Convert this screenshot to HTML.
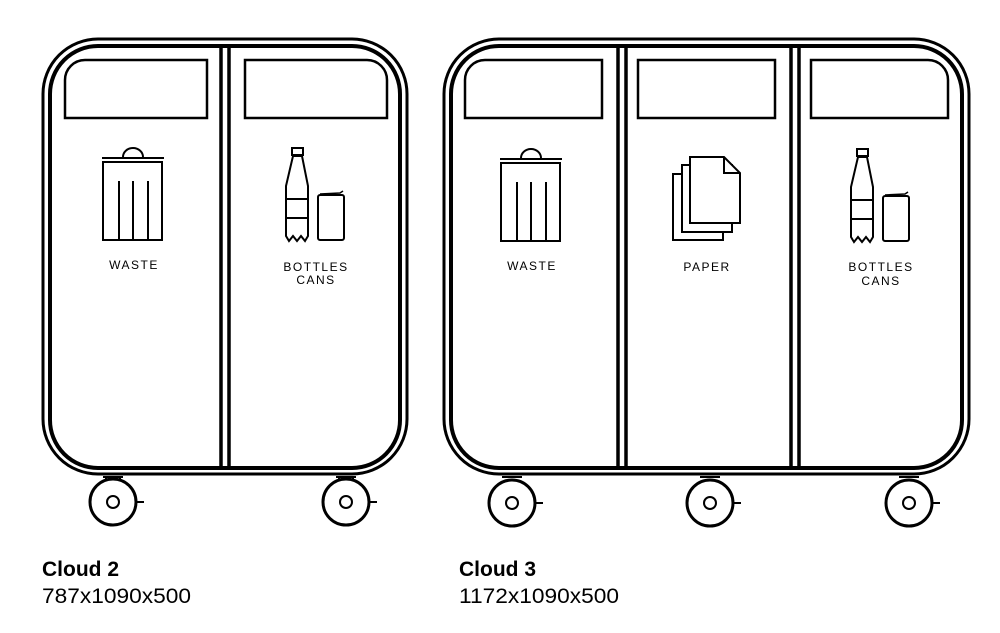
<!DOCTYPE html>
<html><head><meta charset="utf-8"><style>
html,body{margin:0;padding:0;background:#fff;}
svg{display:block}
text{font-family:"Liberation Sans",sans-serif;}
</style></head><body>
<svg width="1000" height="633" viewBox="0 0 1000 633" xmlns="http://www.w3.org/2000/svg">
<g fill="none" stroke="#000" stroke-width="3">
  <!-- Cloud 2 -->
  <rect x="43" y="39" width="364" height="435" rx="55"/>
  <rect x="50" y="46" width="350" height="422" rx="48" stroke-width="4"/>
  <line x1="221" y1="46" x2="221" y2="468" stroke-width="3.5"/>
  <line x1="229" y1="46" x2="229" y2="468" stroke-width="3.5"/>
  <path d="M85 60 H207 V118 H65 V80 A20 20 0 0 1 85 60 Z" stroke-width="2.5"/>
  <path d="M245 60 H367 A20 20 0 0 1 387 80 V118 H245 Z" stroke-width="2.5"/>
  <!-- wheels -->
  <line x1="103" y1="477" x2="123" y2="477" stroke-width="2"/>
  <line x1="106" y1="477" x2="106" y2="480" stroke-width="2"/>
  <line x1="120" y1="477" x2="120" y2="480" stroke-width="2"/>
  <circle cx="113" cy="502" r="23"/>
  <circle cx="113" cy="502" r="6" stroke-width="2"/>
  <line x1="136" y1="502" x2="144" y2="502" stroke-width="2"/>
  <line x1="336" y1="477" x2="356" y2="477" stroke-width="2"/>
  <line x1="339" y1="477" x2="339" y2="480" stroke-width="2"/>
  <line x1="353" y1="477" x2="353" y2="480" stroke-width="2"/>
  <circle cx="346" cy="502" r="23"/>
  <circle cx="346" cy="502" r="6" stroke-width="2"/>
  <line x1="369" y1="502" x2="377" y2="502" stroke-width="2"/>

  <!-- Cloud 3 -->
  <rect x="444" y="39" width="525" height="435" rx="55"/>
  <rect x="451" y="46" width="511" height="422" rx="48" stroke-width="4"/>
  <line x1="618" y1="46" x2="618" y2="468" stroke-width="3.5"/>
  <line x1="626" y1="46" x2="626" y2="468" stroke-width="3.5"/>
  <line x1="791" y1="46" x2="791" y2="468" stroke-width="3.5"/>
  <line x1="799" y1="46" x2="799" y2="468" stroke-width="3.5"/>
  <path d="M485 60 H602 V118 H465 V80 A20 20 0 0 1 485 60 Z" stroke-width="2.5"/>
  <rect x="638" y="60" width="137" height="58" stroke-width="2.5"/>
  <path d="M811 60 H928 A20 20 0 0 1 948 80 V118 H811 Z" stroke-width="2.5"/>
  <line x1="502" y1="477" x2="522" y2="477" stroke-width="2"/>
  <circle cx="512" cy="503" r="23"/>
  <circle cx="512" cy="503" r="6" stroke-width="2"/>
  <line x1="535" y1="503" x2="543" y2="503" stroke-width="2"/>
  <line x1="700" y1="477" x2="720" y2="477" stroke-width="2"/>
  <circle cx="710" cy="503" r="23"/>
  <circle cx="710" cy="503" r="6" stroke-width="2"/>
  <line x1="733" y1="503" x2="741" y2="503" stroke-width="2"/>
  <line x1="899" y1="477" x2="919" y2="477" stroke-width="2"/>
  <circle cx="909" cy="503" r="23"/>
  <circle cx="909" cy="503" r="6" stroke-width="2"/>
  <line x1="932" y1="503" x2="940" y2="503" stroke-width="2"/>
</g>

<g fill="none" stroke="#000" stroke-width="2">
  <g>
    <line x1="102" y1="158" x2="164" y2="158"/>
    <path d="M123 157 A10 9 0 0 1 143 157"/>
    <rect x="103" y="162" width="59" height="78"/>
    <line x1="119" y1="181" x2="119" y2="240"/>
    <line x1="133" y1="181" x2="133" y2="240"/>
    <line x1="148" y1="181" x2="148" y2="240"/>
  </g>
  <g transform="translate(398,1)">
    <line x1="102" y1="158" x2="164" y2="158"/>
    <path d="M123 157 A10 9 0 0 1 143 157"/>
    <rect x="103" y="162" width="59" height="78"/>
    <line x1="119" y1="181" x2="119" y2="240"/>
    <line x1="133" y1="181" x2="133" y2="240"/>
    <line x1="148" y1="181" x2="148" y2="240"/>
  </g>
  <g>
    <rect x="292" y="148" width="11" height="7"/>
    <path d="M293 156 H302 L308 186 V236 L305 241 L301 236 L297 241 L293 236 L289 241 L286 236 V186 Z"/>
    <line x1="286" y1="199" x2="308" y2="199"/>
    <line x1="286" y1="218" x2="308" y2="218"/>
    <rect x="318" y="195" width="26" height="45" rx="2"/>
    <path d="M320 194 L340 193 L343 191" stroke-width="1.5"/>
  </g>
  <g transform="translate(565,1)">
    <rect x="292" y="148" width="11" height="7"/>
    <path d="M293 156 H302 L308 186 V236 L305 241 L301 236 L297 241 L293 236 L289 241 L286 236 V186 Z"/>
    <line x1="286" y1="199" x2="308" y2="199"/>
    <line x1="286" y1="218" x2="308" y2="218"/>
    <rect x="318" y="195" width="26" height="45" rx="2"/>
    <path d="M320 194 L340 193 L343 191" stroke-width="1.5"/>
  </g>
  <rect x="673" y="174" width="50" height="66" fill="#fff"/>
  <rect x="682" y="165" width="50" height="67" fill="#fff"/>
  <path d="M690 157 H724 L740 173 V223 H690 Z" fill="#fff"/>
  <path d="M724 157 V173 H740"/>
</g>

<g font-size="12" letter-spacing="1.5" text-anchor="middle" fill="#000">
  <text x="134" y="269">WASTE</text>
  <text x="316" y="271">BOTTLES</text>
  <text x="316" y="284">CANS</text>
  <text x="532" y="270">WASTE</text>
  <text x="707" y="271">PAPER</text>
  <text x="881" y="271">BOTTLES</text>
  <text x="881" y="285">CANS</text>
</g>

<text x="42" y="576" font-size="21" font-weight="bold">Cloud 2</text>
<text x="42" y="603" font-size="21" textLength="149" lengthAdjust="spacingAndGlyphs">787x1090x500</text>
<text x="459" y="576" font-size="21" font-weight="bold">Cloud 3</text>
<text x="459" y="603" font-size="21" textLength="160" lengthAdjust="spacingAndGlyphs">1172x1090x500</text>
</svg>
</body></html>
